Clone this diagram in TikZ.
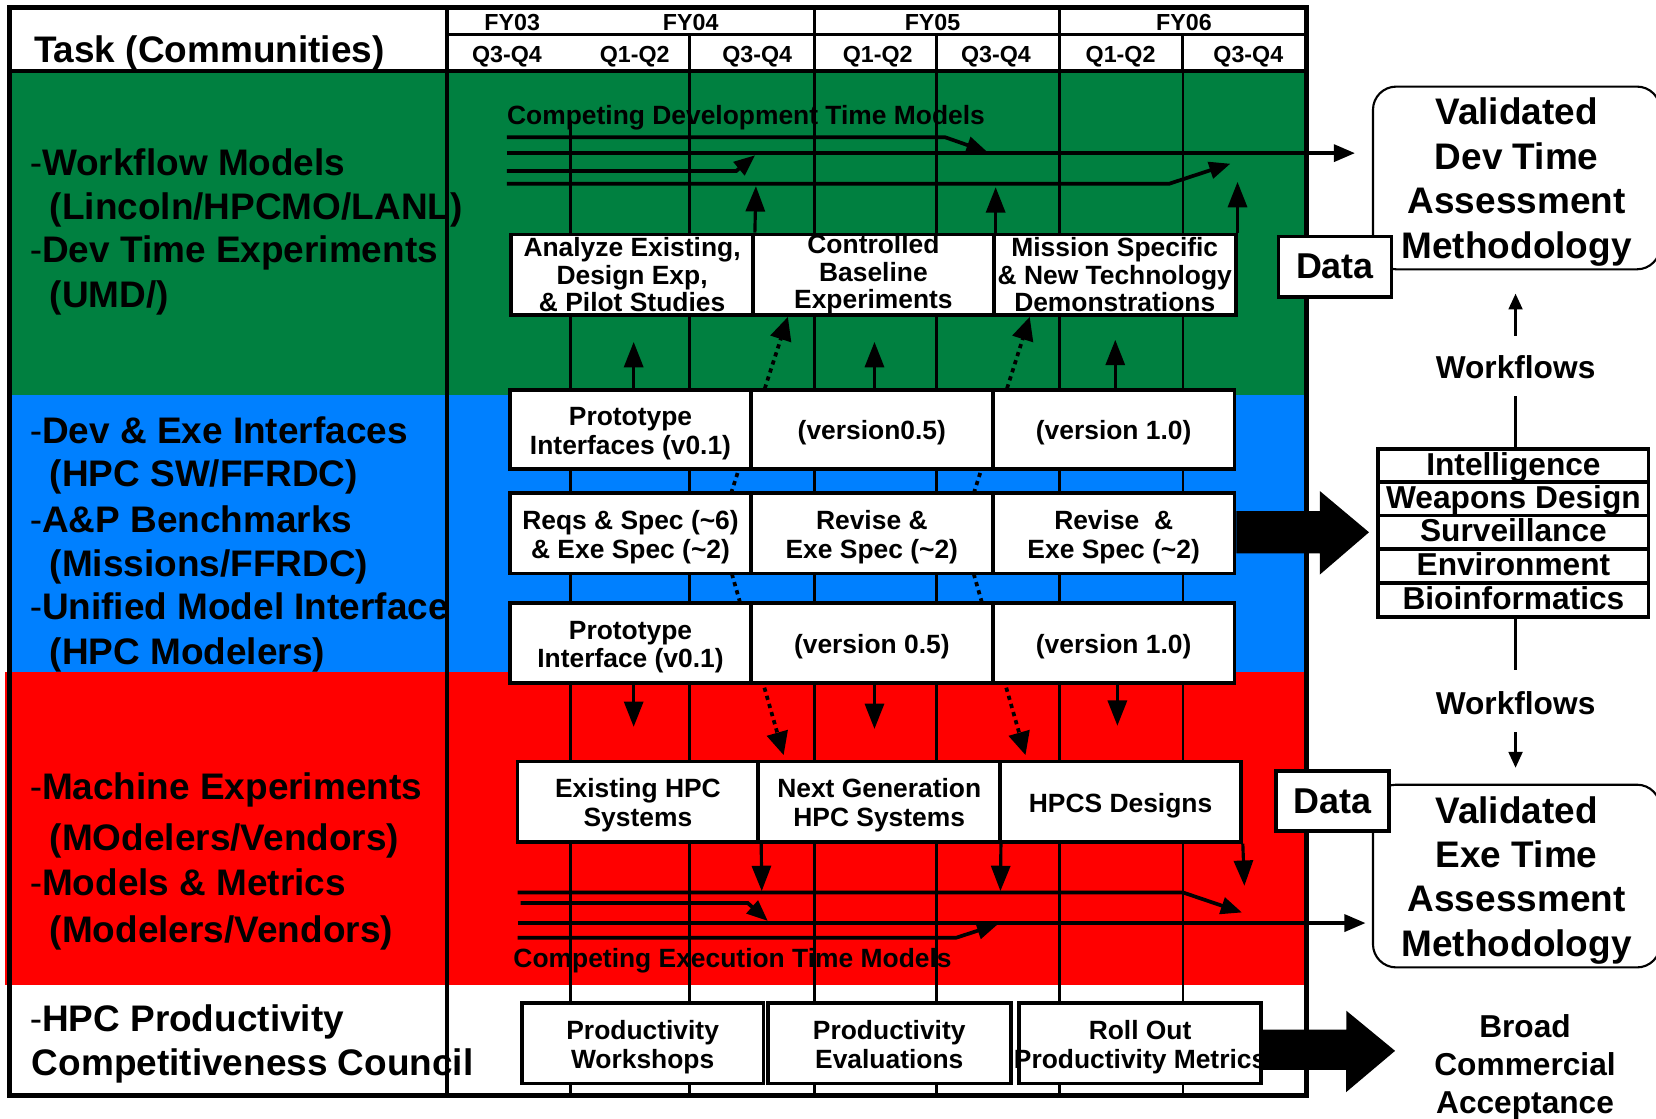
\documentclass[tikz,border=0pt]{standalone}
\usepackage{fontspec}
\setmainfont{Liberation Sans}
\usetikzlibrary{arrows.meta,calc}
\pgfdeclarelayer{bg}
\pgfdeclarelayer{mid}
\pgfsetlayers{bg,mid,main}
\definecolor{bandgreen}{RGB}{0,128,64}
\definecolor{bandblue}{RGB}{0,128,255}
\definecolor{bandred}{RGB}{255,0,0}
\newcommand\fsz[2]{\fontsize{#1}{#2}\selectfont}
\newcommand\tstrut{\rule{0pt}{25pt}}
\newcommand\bstrut{\rule[-5.5pt]{0pt}{5.5pt}}
\begin{document}
\begin{tikzpicture}[x=1pt,y=-1pt,
  lbl/.style={anchor=base west,inner sep=0pt,font=\fsz{35}{42}\bfseries},
  hdr/.style={anchor=base,inner sep=0pt,font=\fsz{22}{24}\bfseries},
  boxbase/.style={draw,line width=3.5pt,fill=white,inner sep=0pt,align=center},
  wbox/.style={boxbase,font=\fsz{25}{27}\bfseries},
  gbox/.style={boxbase,font=\fsz{25}{26}\bfseries},
  rbox/.style={draw,line width=2pt,rounded corners=22pt,inner sep=0pt,align=center,font=\fsz{35}{42}\bfseries,minimum width=272pt,minimum height=173pt},
  dbox/.style={draw,line width=3.5pt,fill=white,inner sep=0pt,font=\fsz{34}{36}\bfseries,minimum width=107pt,minimum height=57pt},
  sbox/.style={draw,line width=3.5pt,fill=white,inner sep=0pt,font=\fsz{30}{30}\bfseries,minimum width=256pt,minimum height=32pt,text height=21pt,text depth=3pt},
  gridl/.style={line width=2.5pt},
  hdrl/.style={line width=3pt},
  mline/.style={line width=3.5pt},
  marr/.style={mline,-{Triangle[length=20pt,width=16pt]}},
  varr/.style={line width=3pt,-{Triangle[length=24pt,width=18pt]}},
  darr/.style={line width=3.5pt,dash pattern=on 4pt off 4pt,-{Triangle[length=22pt,width=20pt]}},
  tarr/.style={line width=2.5pt,-{Triangle[length=15pt,width=13pt]}},
  tline/.style={line width=2.5pt},
  wf/.style={inner sep=0pt,font=\fsz{30}{30}\bfseries},
  ttl/.style={anchor=base west,inner sep=0pt,font=\fsz{25}{27}\bfseries}
]
\useasboundingbox (0,0) rectangle (1568,1059);
\clip (0,0) rectangle (1568,1059);

\begin{pgfonlayer}{bg}
\fill[white] (0,0) rectangle (1568,1059);
\fill[bandgreen] (9,67) rectangle (1235,374);
\fill[bandblue] (9,374) rectangle (1235,636);
\fill[bandred] (5,636) rectangle (1235,933);
\draw[gridl] (540,115) -- (540,1037);
\foreach \x in {653,771,887,1003,1120} \draw[gridl] (\x,67) -- (\x,1037);
\draw[hdrl] (423,32.5) -- (1237,32.5);
\foreach \x in {771,1003} \draw[hdrl] (\x,7) -- (\x,67);
\foreach \x in {653,887,1120} \draw[hdrl] (\x,32.5) -- (\x,67);
\draw[line width=4pt] (9,67) -- (1237,67);
\draw[line width=3.5pt] (423,7) -- (423,1037);
\draw[line width=5pt] (9,7) rectangle (1237,1037);
\end{pgfonlayer}

% header
\node[lbl] (task) at (32,59) {Task (Communities)};
\node[hdr] (fy03) at (485,28.5) {FY03};
\node[hdr] (fy04) at (654,28.5) {FY04};
\node[hdr] (fy05) at (883,28.5) {FY05};
\node[hdr] (fy06) at (1121,28.5) {FY06};
\node[hdr] (q1) at (480,59) {Q3-Q4};
\node[hdr] (q2) at (601,59) {Q1-Q2};
\node[hdr] (q3) at (717,59) {Q3-Q4};
\node[hdr] (q4) at (831,59) {Q1-Q2};
\node[hdr] (q5) at (943,59) {Q3-Q4};
\node[hdr] (q6) at (1061,59) {Q1-Q2};
\node[hdr] (q7) at (1182,59) {Q3-Q4};

% left labels
\node[lbl] (l1) at (28,166) {\mdseries-\bfseries Workflow Models};
\node[lbl] (l2) at (47,207.5) {(Lincoln/HPCMO/LANL)};
\node[lbl] (l3) at (28,249) {\mdseries-\bfseries Dev Time Experiments};
\node[lbl] (l4) at (47,291) {(UMD/)};
\node[lbl] (l5) at (28,420) {\mdseries-\bfseries Dev \& Exe Interfaces};
\node[lbl] (l6) at (47,461) {(HPC SW/FFRDC)};
\node[lbl] (l7) at (28,504) {\mdseries-\bfseries A\&P Benchmarks};
\node[lbl] (l8) at (47,545.5) {(Missions/FFRDC)};
\node[lbl] (l9) at (28,587) {\mdseries-\bfseries Unified Model Interface};
\node[lbl] (l10) at (47,629.5) {(HPC Modelers)};
\node[lbl] (l11) at (28,757) {\mdseries-\bfseries Machine Experiments};
\node[lbl] (l12) at (47,805.5) {(MOdelers/Vendors)};
\node[lbl] (l13) at (28,848) {\mdseries-\bfseries Models \& Metrics};
\node[lbl] (l14) at (47,892) {(Modelers/Vendors)};
\node[lbl] (l15) at (28,977) {\mdseries-\bfseries HPC Productivity};
\node[lbl] (l16) at (30,1018.5) {Competitiveness Council};

% titles of model lines
\node[ttl] (devttl) at (480,117.5) {Competing Development Time Models};
\node[ttl] (exettl) at (486,916.5) {Competing Execution Time Models};

% green boxes
\node[gbox,minimum width=229pt,minimum height=76pt] (g1) at (598.5,260) {Analyze Existing,\\Design Exp,\\\& Pilot Studies};
\node[gbox,minimum width=228pt,minimum height=76pt] (g2) at (827,260) {Controlled\\Baseline\\Experiments};
\node[gbox,minimum width=229pt,minimum height=76pt] (g3) at (1055.5,260) {Mission Specific\\\& New Technology\\Demonstrations};

% blue boxes
\node[wbox,minimum width=228pt,minimum height=75pt] (b11) at (597,406.5) {\tstrut Prototype\\Interfaces (v0.1)};
\node[wbox,minimum width=229pt,minimum height=75pt] (b12) at (825.5,406.5) {\tstrut(version0.5)};
\node[wbox,minimum width=229pt,minimum height=75pt] (b13) at (1054.5,406.5) {\tstrut(version 1.0)};
\node[wbox,minimum width=228pt,minimum height=76pt] (b21) at (597,505) {\tstrut Reqs \& Spec (\textasciitilde 6)\\\& Exe Spec (\textasciitilde 2)};
\node[wbox,minimum width=229pt,minimum height=76pt] (b22) at (825.5,505) {\tstrut Revise \&\\Exe Spec (\textasciitilde 2)};
\node[wbox,minimum width=229pt,minimum height=76pt] (b23) at (1054.5,505) {\tstrut Revise\ \ \&\\Exe Spec (\textasciitilde 2)};
\node[wbox,minimum width=228pt,minimum height=76pt] (b31) at (597,609) {\tstrut Prototype\\Interface (v0.1)};
\node[wbox,minimum width=229pt,minimum height=76pt] (b32) at (825.5,609) {\tstrut(version 0.5)};
\node[wbox,minimum width=229pt,minimum height=76pt] (b33) at (1054.5,609) {\tstrut(version 1.0)};

% red boxes
\node[wbox,minimum width=228pt,minimum height=76pt] (r1) at (604,759) {\tstrut Existing HPC\\Systems};
\node[wbox,minimum width=229pt,minimum height=76pt] (r2) at (832.5,759) {\tstrut Next Generation\\HPC Systems};
\node[wbox,minimum width=228pt,minimum height=76pt] (r3) at (1061,759) {\tstrut HPCS Designs};

% white boxes
\node[wbox,minimum width=229pt,minimum height=76pt] (w1) at (608.5,988) {\tstrut Productivity\\Workshops};
\node[wbox,minimum width=230pt,minimum height=76pt] (w2) at (842,988) {\tstrut Productivity\\Evaluations\bstrut};
\node[wbox,minimum width=229pt,minimum height=76pt] (w3) at (1079.5,988) {\tstrut Roll Out\\\makebox[229pt]{Productivity Metrics}};

% right side
\node[rbox] (devm) at (1436,168.5) {\rule{0pt}{33pt}Validated\\Dev Time\\Assessment\\Methodology};
\node[dbox] (data1) at (1264,252.5) {Data};
\node[rbox] (exem) at (1436,829.5) {\rule{0pt}{33pt}Validated\\Exe Time\\Assessment\\Methodology};
\node[dbox] (data2) at (1261.5,758.5) {Data};
\node[sbox] (s1) at (1433,441) {Intelligence};
\node[sbox] (s2) at (1433,472.5) {Weapons Design};
\node[sbox] (s3) at (1433,504) {Surveillance};
\node[sbox] (s4) at (1433,536) {Environment};
\node[sbox] (s5) at (1433,568) {Bioinformatics};
\node[wf] (wf1) at (1435,348) {Workflows};
\node[wf] (wf2) at (1435,666) {Workflows};
\node[inner sep=0pt,align=center,font=\fsz{30}{36}\bfseries] (bca) at (1444,1011) {Broad\\Commercial\\Acceptance};

% workflow arrows
\draw[tarr] ($(wf1.north)+(0,-19)$) -- ($(wf1.north |- devm.south)+(0,22)$);
\draw[tline] ($(wf1.south)+(0,16)$) -- (wf1.south |- s1.north);
\draw[tline] (wf2.north |- s5.south) -- ($(wf2.north)+(0,-20)$);
\draw[tarr] ($(wf2.south)+(0,16)$) -- ($(wf2.south |- exem.north)+(0,-15)$);

% big arrows
\fill ($(b23.east)+(0,-21)$) -- ++(79,0) -- ++(0,-19) -- ($(s3.west)+(-7,0)$) -- ++(-46.5,40) -- ++(0,-20) -- ($(b23.east)+(0,19)$) -- cycle;
\fill ($(w3.east)+(0,-13)$) -- ++(79,0) -- ++(0,-18) -- ($(bca.west)+(-37,-16)$) -- ++(-46.25,39) -- ++(0,-21) -- ($(w3.east)+(0,25)$) -- cycle;

% development model lines
\coordinate (d1s) at (480,130); \coordinate (d1e) at (935,144);
\coordinate (d2s) at (480,145); \coordinate (d2e) at (1283,145);
\coordinate (d3s) at (480,162); \coordinate (d3e) at (715,147);
\coordinate (d4s) at (480,174); \coordinate (d4e) at (1165,155);
\draw[marr] (d1s) -- (895,130) -- (d1e);
\draw[marr] (d2s) -- (d2e);
\draw[marr] (d3s) -- (697,162) -- (d3e);
\draw[marr] (d4s) -- (1107,174) -- (d4e);

% execution model lines
\coordinate (e1s) at (490,845); \coordinate (e1e) at (1176,864);
\coordinate (e2s) at (493,855); \coordinate (e2e) at (727,872);
\coordinate (e3s) at (490,874); \coordinate (e3e) at (1293,874);
\coordinate (e4s) at (490,888); \coordinate (e4e) at (945,875);
\draw[marr] (e1s) -- (1120,845) -- (e1e);
\draw[marr] (e2s) -- (708,855) -- (e2e);
\draw[marr] (e3s) -- (e3e);
\draw[marr] (e4s) -- (905,888) -- (e4e);

% solid vertical arrows
\draw[varr] ($(b11.north)+(3,0)$) -- ($(g1.south)+(1.5,24)$);
\draw[varr] ($(b12.north)+(2.5,0)$) -- ($(g2.south)+(1,24)$);
\draw[varr] ($(b13.north)+(1.5,0)$) -- ($(g3.south)+(0.5,22)$);
\draw[varr] ($(g1.north east)+(0,0)$) -- ($(g1.north east)+(1,-44)$);
\draw[varr] ($(g2.north east)+(0,0)$) -- ($(g2.north east)+(0,-43)$);
\draw[varr] ($(g3.north east)+(0,0)$) -- ($(g3.north east)+(0,-48)$);
\draw[varr] ($(b31.south)+(3,0)$) -- ($(r1.north)+(-4,-31)$);
\draw[varr] ($(b32.south)+(2.5,0)$) -- ($(r2.north)+(-4.5,-29)$);
\draw[varr] ($(b33.south)+(3.5,0)$) -- ($(r3.north)+(-3,-32)$);
\draw[varr] ($(r1.south east)+(1,0)$) -- ($(r1.south east)+(1.5,45)$);
\draw[varr] ($(r2.south east)+(-1,0)$) -- ($(r2.south east)+(-1.5,45)$);
\draw[varr] ($(r3.south east)+(0,0)$) -- ($(r3.south east)+(1.5,40)$);

% dotted arrows (behind boxes)
\coordinate (ds1) at (680,505); \coordinate (dt1) at (746,300);
\coordinate (ds2) at (682,505); \coordinate (dt2) at (742,715);
\coordinate (ds3) at (910,505); \coordinate (dt3) at (975,300);
\coordinate (ds4) at (911,505); \coordinate (dt4) at (971,715);
\begin{pgfonlayer}{mid}
\draw[darr] (ds1) -- (dt1);
\draw[darr] (ds2) -- (dt2);
\draw[darr] (ds3) -- (dt3);
\draw[darr] (ds4) -- (dt4);
\end{pgfonlayer}
\end{tikzpicture}
\end{document}
